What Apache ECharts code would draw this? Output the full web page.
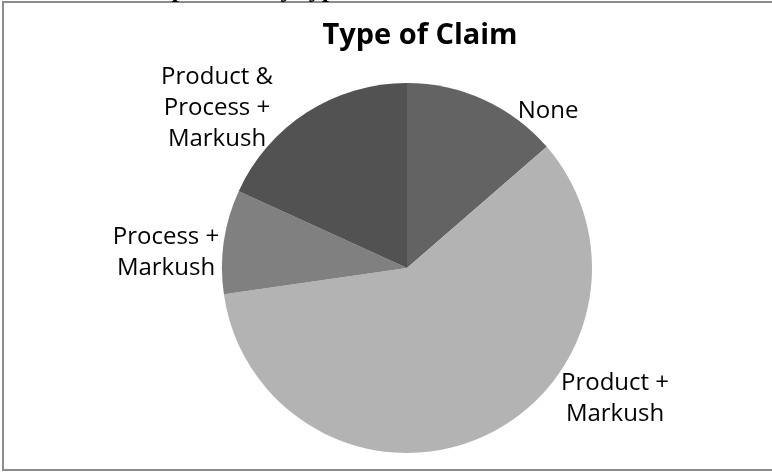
<!DOCTYPE html>
<html>
<head>
<meta charset="utf-8">
<script src="https://cdn.jsdelivr.net/npm/echarts@6/dist/echarts.min.js"></script>
<style>
  html, body { margin: 0; padding: 0; background: #fff; }
  #chart { width: 772px; height: 472px; }
</style>
</head>
<body>
<div id="chart"></div>
<script>
// claim types, clockwise from 12 o'clock
const categories = ['None', 'Product +\nMarkush', 'Process +\nMarkush', 'Product &\nProcess +\nMarkush']
const counts = [3, 13, 2, 4]
const sliceColors = ['#636363', '#b3b3b3', '#808080', '#525252']

// where Excel put each label (text centre, px)
const labelPos = [[548, 111], [615, 399], [166, 253], [217, 108]]

const chart = echarts.init(document.getElementById('chart'))

chart.setOption({
  animation: false,
  graphic: [
    {
      type: 'rect',
      shape: { x: 3, y: 2, width: 800, height: 468 },
      style: { fill: 'none', stroke: '#8c8c8c', lineWidth: 2 }
    },
    {
      // caption of the page above, mostly cut off
      type: 'text',
      x: 118,
      y: 3,
      style: {
        text: 'Composition by type',
        font: 'bold 26px "Liberation Serif"',
        fill: '#000',
        verticalAlign: 'bottom'
      }
    },
    {
      type: 'text',
      x: 420,
      y: 36,
      style: {
        text: 'Type of Claim',
        font: 'bold 29px "Open Sans"',
        fill: '#000',
        align: 'center',
        verticalAlign: 'middle'
      }
    }
  ],
  series: [
    {
      type: 'pie',
      center: [407, 268],
      radius: 185,
      startAngle: 90,
      clockwise: true,
      label: {
        show: true,
        position: 'outside',
        color: '#000',
        fontFamily: 'Open Sans',
        fontSize: 24,
        lineHeight: 31,
        align: 'center',
        formatter: '{b}'
      },
      labelLine: { show: false },
      labelLayout: function (p) {
        const pos = labelPos[p.dataIndex]
        return { x: pos[0], y: pos[1], align: 'center', verticalAlign: 'middle' }
      },
      emphasis: { disabled: true },
      data: categories.map((name, i) => ({
        name: name,
        value: counts[i],
        itemStyle: { color: sliceColors[i] }
      }))
    }
  ]
})
</script>
</body>
</html>
